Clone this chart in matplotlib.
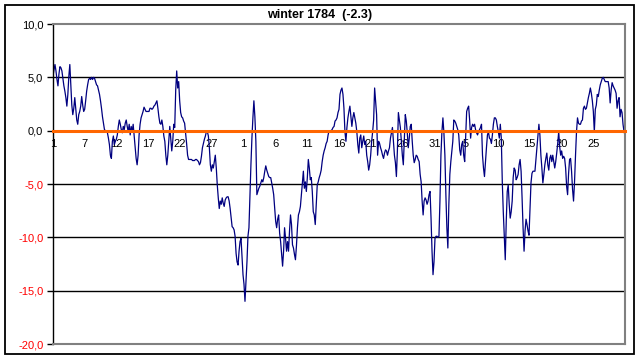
import matplotlib
matplotlib.use("Agg")
import matplotlib.pyplot as plt
from matplotlib.patches import Rectangle
import numpy as np

plt.rcParams['font.family'] = ['Liberation Sans', 'DejaVu Sans']

title = "winter 1784  (-2.3)"

# temperature readings, left to right
part1 = [5.1, 5.7, 6.2, 5.6, 4.8, 4.2, 5.3, 6.0, 5.9, 5.6, 4.9, 4.2, 3.7, 3.1, 2.3, 3.4, 5.1, 6.2, 4.3, 2.4,
         1.5, 2.1, 3.1, 2.0, 1.0, 0.6, 1.5, 1.8, 2.3, 3.2, 2.4, 1.8, 2.0, 2.8, 3.7, 4.3, 4.8, 4.9, 4.8, 5.0,
         4.8, 5.0, 4.9, 4.6, 4.3, 4.2, 3.8, 3.4, 2.8, 2.1, 1.3, 0.7, 0.1, 0.0, -0.1, -0.2, -0.7, -1.3, -2.3, -2.6,
         -1.0, -0.5, -1.3, -1.0, -0.8, -0.4, 0.4, 1.0, 0.6, 0.1, -0.2, 0.4, 0.1, 0.7, 1.0, 0.4, -0.1, 0.6, -0.4, 0.4,
         -0.1, 0.6, -0.5, -1.6, -2.6, -3.2, -2.3, -0.4, 0.6, 1.2, 1.5, 1.8, 2.2, 2.0, 1.8, 1.8, 1.8, 1.8]
part2 = [2.1, 2.1, 2.0, 2.1, 2.3, 2.4, 2.6, 2.8, 2.1, 1.3, 0.7, 0.6, 1.0, 0.4, -0.5, -1.0, -2.3, -3.2, -2.3, -1.0,
         0.4, -0.7, -1.9, -1.0, 0.6, 0.3, 3.8, 5.6, 4.0, 4.6, 2.8, 1.7, 1.3, 1.2, 0.9, 0.7, -0.2, -1.2, -2.3, -2.7,
         -2.7, -2.7, -2.7, -2.8, -2.8, -2.8, -2.7, -2.7, -2.8, -2.9, -3.2, -3.0, -2.4, -1.6, -1.2, -0.8, -0.5, -0.1, -0.1, -0.5,
         -1.6, -3.2, -3.8, -3.2, -3.5, -2.9, -2.3, -3.5, -5.1, -6.3, -7.3, -6.6, -6.9, -6.3, -6.8, -7.1, -6.5, -6.3, -6.2, -6.2,
         -6.6, -7.3, -8.2, -9.0, -9.1, -9.3, -9.9, -11.5, -12.3, -12.6, -11.3, -10.4, -10.1, -11.9, -13.5, -14.4]
part3 = [-16.0, -14.1, -12.3, -9.9, -9.1, -6.0, -3.2, -0.7, 1.2, 2.8, 1.3, -1.0, -6.0, -5.7, -5.4, -5.2, -4.9, -4.6, -4.8, -4.4,
         -3.8, -3.3, -3.7, -4.0, -4.3, -4.4, -4.4, -4.9, -5.4, -6.0, -7.3, -8.5, -9.1, -8.3, -7.9, -9.6, -10.4, -11.6, -12.7, -11.3,
         -9.1, -10.1, -11.3, -10.4, -11.3, -9.4, -7.9, -8.8, -10.7, -11.0, -11.6, -12.1, -10.8, -9.1, -7.9, -7.6, -7.1, -6.0, -4.8, -3.8,
         -5.4, -4.8, -5.7, -4.4, -2.7, -3.5, -4.6, -4.4, -5.7, -7.6, -7.9, -8.8, -6.9, -5.1, -4.8, -4.4, -4.1, -3.7, -2.9, -2.3,
         -1.9, -1.6, -1.2, -1.0, -0.4, 0.0, 0.0, 0.0, 0.1, 0.3, 0.4, 0.9, 1.0, 1.2, 1.7, 2.0]
part4 = [3.4, 3.8, 4.0, 3.4, 2.1, -0.1, -1.0, 0.3, 1.2, 1.8, 2.3, 1.3, 0.4, 1.2, 1.7, 1.2, 0.7, -0.1, -1.3, -2.1,
         -0.7, -0.4, -1.6, -1.0, -0.5, -1.3, -1.0, -2.3, -2.9, -3.7, -3.2, -2.3, -1.0, -0.1, 1.0, 4.0, 2.8, 1.5, -2.3, -1.0,
         -1.2, -1.6, -1.9, -2.3, -2.6, -2.1, -1.8, -1.9, -2.3, -1.9, -1.6, -0.7, -0.2, 0.3, -1.0, -2.3, -3.0, -4.3, -1.9, 1.7,
         1.0, 0.3, -1.0, -2.3, -3.2, -0.8, 1.5, 0.9, -0.2, -1.6, -0.7, 0.4, 0.6, -1.0, -2.3, -3.0, -2.7, -2.3, -2.4, -2.7,
         -2.9, -4.1, -4.8, -6.6, -7.9, -6.6, -6.3, -6.5, -6.9, -6.6, -6.0, -5.7, -8.2, -11.3, -13.5, -12.3]
part5 = [-10.1, -9.9, -9.9, -10.0, -9.9, -6.6, -2.3, -0.1, 1.2, -0.2, -2.3, -6.0, -9.1, -11.0, -6.9, -4.1, -2.9, -1.9, -1.0, 1.0,
         0.9, 0.7, 0.4, 0.1, -0.4, -1.8, -2.3, -1.3, -1.0, -2.3, -2.9, -0.5, 1.8, 2.1, 2.3, 1.0, -0.7, 0.3, 0.6, 0.4,
         0.6, 0.1, -0.2, -0.4, -0.1, 0.1, 0.3, 0.6, -2.3, -3.5, -4.3, -2.9, -1.6, -0.4, -0.1, -0.7, -0.8, -1.2, -0.4, 0.6,
         1.2, 1.2, 1.0, 0.4, -0.1, -0.7, 0.6, -0.7, -4.8, -7.6, -9.8, -12.1, -8.5, -5.7, -5.1, -6.9, -8.2, -7.6, -6.6, -4.4,
         -3.5, -3.7, -4.6, -4.4, -4.1, -3.2, -2.7, -3.8, -6.3, -9.1, -11.3, -9.4, -8.3, -8.8, -9.4, -9.8]
part6 = [-7.4, -4.9, -4.0, -3.8, -3.8, -3.8, -2.7, -1.6, -0.4, 0.6, -0.4, -2.3, -3.5, -4.9, -4.1, -3.2, -2.6, -2.1, -3.2, -3.7,
         -2.6, -2.3, -2.9, -2.3, -2.9, -3.5, -2.9, -2.1, -1.2, -0.1, -1.5, -2.3, -1.9, -2.6, -2.4, -2.6, -3.5, -5.2, -6.0, -4.0,
         -2.7, -2.6, -3.8, -5.5, -6.6, -4.8, -2.3, -0.1, 1.2, 0.7, 0.6, 0.6, 0.9, 1.0, 2.1, 2.3, 2.0, 2.1, 2.6, 3.1,
         3.5, 4.0, 3.5, 2.8, 1.8, -0.1, 2.0, 2.4, 3.4, 3.2, 3.8, 4.3, 4.6, 4.9, 5.0, 4.8, 4.6, 4.6, 4.6, 4.6,
         4.0, 2.6, 3.8, 4.5, 4.2, 4.0, 3.8, 3.5, 2.1, 2.8, 3.1, 1.3, 2.0, 1.7, 0.6, -0.1, -0.4]

day_labels = ['1', '7', '12', '17', '22', '27', '1', '6', '11', '16', '21', '26', '31',
              '5', '10', '15', '20', '25']
y_ticks = [-20, -15, -10, -5, 0, 5, 10]

temps = np.array(part1 + part2 + part3 + part4 + part5 + part6)
x = np.linspace(0, 90, len(temps))

fig = plt.figure(figsize=(6.41, 3.6), dpi=100)
fig.patch.set_facecolor('white')
fig.patches.append(Rectangle((5 / 641, 6 / 360), 629 / 641, 349 / 360, transform=fig.transFigure,
                             fill=False, edgecolor='black', linewidth=1.3))

ax = fig.add_axes([53 / 641, 16 / 360, 572 / 641, 320 / 360])
ax.plot(x, temps, color='#000080', lw=0.9, zorder=2)

for v in [-15, -10, -5, 5]:
    ax.axhline(v, color='black', lw=1.0, zorder=1)
ax.axhline(-20, color='#808080', lw=1.5, zorder=3, clip_on=False)

ax.set_xlim(0, 90)
ax.set_ylim(-20, 10)

ax.spines['bottom'].set_position(('data', 0))
ax.spines['bottom'].set_color('#FF6600')
ax.spines['bottom'].set_linewidth(2.2)
ax.spines['top'].set_color('#808080')
ax.spines['top'].set_linewidth(1.5)
ax.spines['right'].set_color('#808080')
ax.spines['right'].set_linewidth(1.5)
ax.spines['left'].set_color('black')
ax.spines['left'].set_linewidth(1.0)

ax.set_xticks(np.arange(0, 90, 5))
ax.set_xticklabels(day_labels, fontsize=8)
ax.tick_params(axis='x', length=0, pad=6)

ax.set_yticks(y_ticks)
ax.set_yticklabels([('%.1f' % v).replace('.', ',') for v in y_ticks], fontsize=8)
ax.tick_params(axis='y', direction='out', length=4, width=1, pad=3)
for lab, v in zip(ax.get_yticklabels(), y_ticks):
    lab.set_color('red' if v < 0 else 'black')

fig.text(320 / 641, 1 - 15 / 360, title, ha='center', va='center', fontsize=9, fontweight='bold')

fig.savefig('out.png', dpi=100)
